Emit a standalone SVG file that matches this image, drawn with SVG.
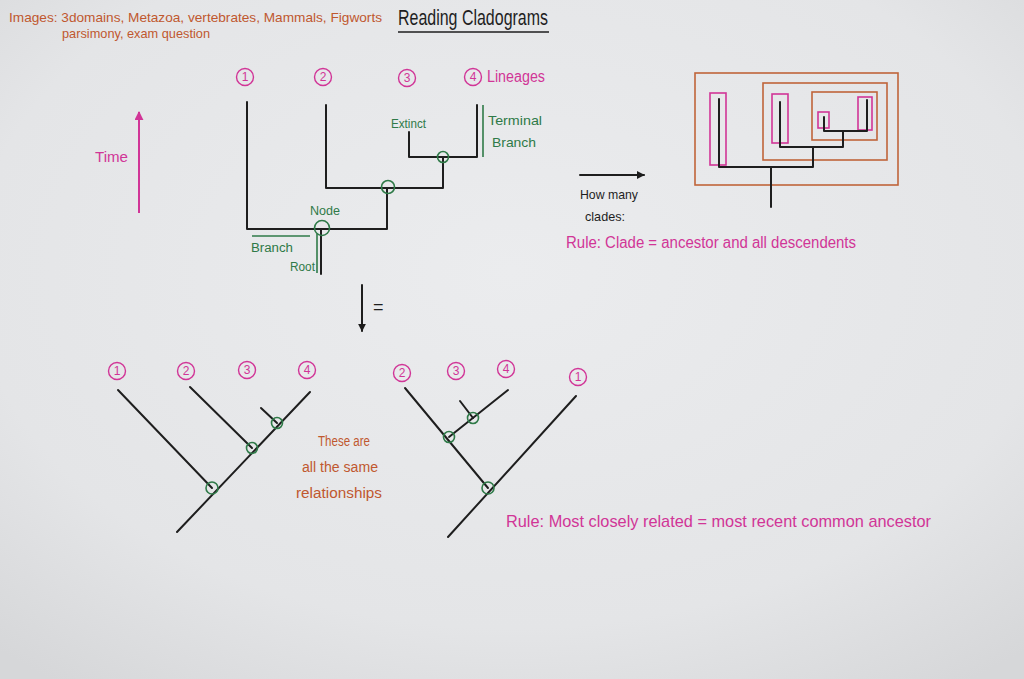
<svg xmlns="http://www.w3.org/2000/svg" width="1024" height="679" viewBox="0 0 1024 679">
<defs>
<radialGradient id="bg" cx="50%" cy="40%" r="75%">
<stop offset="0" stop-color="#ebecee"/>
<stop offset="0.7" stop-color="#e4e5e7"/>
<stop offset="1" stop-color="#d6d7d9"/>
</radialGradient>
<marker id="ahK" viewBox="0 0 10 10" refX="9" refY="5" markerWidth="4" markerHeight="4" orient="auto" markerUnits="strokeWidth"><path d="M0,0 L10,5 L0,10 z" fill="#1c1c1c"/></marker>
<marker id="ahM" viewBox="0 0 10 10" refX="9" refY="5" markerWidth="4.5" markerHeight="4.5" orient="auto" markerUnits="strokeWidth"><path d="M0,0 L10,5 L0,10 z" fill="#d13597"/></marker>
</defs>
<style>
text{font-family:"Liberation Sans","DejaVu Sans",sans-serif}
.k{stroke:#1e1e1e;stroke-width:2;fill:none;stroke-linecap:round;stroke-linejoin:round}
.g{stroke:#2f7a48;stroke-width:1.6;fill:none}
.nc{stroke:#2f7a48;stroke-width:1.6;fill:none}
.mc{stroke:#d13597;stroke-width:1.4;fill:none}
.m{fill:#d13597}
.gt{fill:#2f7a48}
.o{fill:#c0582f}
.kt{fill:#1e1e1e}
.num{fill:#d13597;font-size:12px;text-anchor:middle}
.or{stroke:#c0643a;stroke-width:1.6;fill:none}
.mr{stroke:#d13597;stroke-width:1.6;fill:none}
</style>
<rect width="1024" height="679" fill="url(#bg)"/>

<g id="header">
<text x="9" y="22" class="o" font-size="13" textLength="373" lengthAdjust="spacingAndGlyphs">Images: 3domains, Metazoa, vertebrates, Mammals, Figworts</text>
<text x="62" y="38" class="o" font-size="13" textLength="148" lengthAdjust="spacingAndGlyphs">parsimony, exam question</text>
<text x="398" y="25" class="kt" font-size="22" textLength="150" lengthAdjust="spacingAndGlyphs">Reading Cladograms</text>
<line x1="398" y1="32" x2="549" y2="32" stroke="#1e1e1e" stroke-width="1.6"/>
</g>

<g id="time">
<line x1="139" y1="213" x2="139" y2="112" stroke="#d13597" stroke-width="2" marker-end="url(#ahM)"/>
<text x="95" y="162" class="m" font-size="15" textLength="33" lengthAdjust="spacingAndGlyphs">Time</text>
</g>

<g id="top-connectors">
<path class="k" d="M247,102 V229 H387 V188"/>
<path class="k" d="M326,105 V188 H443 V157"/>
<path class="k" d="M409,132 V157 H477 V105"/>
<line x1="321" y1="229" x2="321" y2="274" class="k"/>
</g>
<g id="top-node-root"><circle cx="322" cy="228" r="7.5" class="nc"/></g>
<g id="top-node-a"><circle cx="388" cy="187" r="6.5" class="nc"/></g>
<g id="top-node-b"><circle cx="443" cy="157" r="5.5" class="nc"/></g>
<g id="top-lin1"><circle cx="245" cy="77" r="8.5" class="mc"/><text x="245" y="81" class="num">1</text></g>
<g id="top-lin2"><circle cx="323" cy="77" r="8.5" class="mc"/><text x="323" y="81" class="num">2</text></g>
<g id="top-lin3"><circle cx="407" cy="78" r="8.5" class="mc"/><text x="407" y="82" class="num">3</text></g>
<g id="top-lin4"><circle cx="473" cy="77" r="8.5" class="mc"/><text x="473" y="81" class="num">4</text>
<text x="487" y="82" class="m" font-size="16" textLength="58" lengthAdjust="spacingAndGlyphs">Lineages</text></g>
<g id="top-annotations">
<text x="391" y="128" class="gt" font-size="12" textLength="35" lengthAdjust="spacingAndGlyphs">Extinct</text>
<line x1="483" y1="105" x2="483" y2="157" class="g"/>
<text x="488" y="125" class="gt" font-size="13" textLength="54" lengthAdjust="spacingAndGlyphs">Terminal</text>
<text x="492" y="147" class="gt" font-size="13" textLength="44" lengthAdjust="spacingAndGlyphs">Branch</text>
<text x="310" y="215" class="gt" font-size="12" textLength="30" lengthAdjust="spacingAndGlyphs">Node</text>
<line x1="252" y1="236" x2="310" y2="236" class="g"/>
<text x="251" y="252" class="gt" font-size="12" textLength="42" lengthAdjust="spacingAndGlyphs">Branch</text>
<line x1="317" y1="234" x2="317" y2="273" class="g"/>
<text x="290" y="271" class="gt" font-size="12" textLength="25" lengthAdjust="spacingAndGlyphs">Root</text>
</g>

<g id="clade-boxes">
<rect x="695" y="73" width="203" height="112" class="or"/>
<rect x="763" y="83" width="124" height="77" class="or"/>
<rect x="812" y="92" width="65" height="48" class="or"/>
<rect x="710" y="93" width="16" height="72" class="mr"/>
<rect x="772" y="94" width="16" height="49" class="mr"/>
<rect x="818" y="112" width="11" height="16" class="mr"/>
<rect x="858" y="97" width="14" height="33" class="mr"/>
</g>
<g id="clade-tree">
<path class="k" d="M719,99 V167 H813 V147"/>
<path class="k" d="M780,102 V147 H843 V131"/>
<path class="k" d="M824,117 V131 H867 V100"/>
<line x1="771" y1="167" x2="771" y2="207" class="k"/>
</g>
<g id="clade-question">
<line x1="580" y1="175" x2="644" y2="175" class="k" marker-end="url(#ahK)"/>
<text x="580" y="199" class="kt" font-size="13" textLength="58" lengthAdjust="spacingAndGlyphs">How many</text>
<text x="585" y="221" class="kt" font-size="13" textLength="40" lengthAdjust="spacingAndGlyphs">clades:</text>
<text x="566" y="248" class="m" font-size="16" textLength="290" lengthAdjust="spacingAndGlyphs">Rule: Clade = ancestor and all descendents</text>
</g>

<g id="equals-arrow">
<line x1="362" y1="285" x2="362" y2="331" class="k" marker-end="url(#ahK)"/>
<text x="373" y="313" class="kt" font-size="18">=</text>
</g>

<g id="left-connectors">
<line x1="177" y1="532" x2="310" y2="392" class="k"/>
<line x1="118" y1="390" x2="212" y2="488" class="k"/>
<line x1="190" y1="387" x2="252" y2="448" class="k"/>
<line x1="261" y1="408" x2="277" y2="423" class="k"/>
</g>
<g id="left-node-a"><circle cx="212" cy="488" r="6" class="nc"/></g>
<g id="left-node-b"><circle cx="252" cy="448" r="5.5" class="nc"/></g>
<g id="left-node-c"><circle cx="277" cy="423" r="5.5" class="nc"/></g>
<g id="left-lin1"><circle cx="117" cy="371" r="8.5" class="mc"/><text x="117" y="375" class="num">1</text></g>
<g id="left-lin2"><circle cx="186" cy="371" r="8.5" class="mc"/><text x="186" y="375" class="num">2</text></g>
<g id="left-lin3"><circle cx="247" cy="370" r="8.5" class="mc"/><text x="247" y="374" class="num">3</text></g>
<g id="left-lin4"><circle cx="307" cy="370" r="8.5" class="mc"/><text x="307" y="374" class="num">4</text></g>
<g id="same-note">
<text x="318" y="446" class="o" font-size="14" textLength="52" lengthAdjust="spacingAndGlyphs">These are</text>
<text x="302" y="472" class="o" font-size="14" textLength="76" lengthAdjust="spacingAndGlyphs">all the same</text>
<text x="296" y="498" class="o" font-size="14" textLength="86" lengthAdjust="spacingAndGlyphs">relationships</text>
</g>

<g id="right-connectors">
<line x1="448" y1="537" x2="576" y2="396" class="k"/>
<line x1="405" y1="388" x2="488" y2="488" class="k"/>
<line x1="449" y1="437" x2="508" y2="390" class="k"/>
<line x1="460" y1="401" x2="473" y2="418" class="k"/>
</g>
<g id="right-node-a"><circle cx="488" cy="488" r="6" class="nc"/></g>
<g id="right-node-b"><circle cx="449" cy="437" r="5.5" class="nc"/></g>
<g id="right-node-c"><circle cx="473" cy="418" r="5.5" class="nc"/></g>
<g id="right-lin2"><circle cx="402" cy="373" r="8.5" class="mc"/><text x="402" y="377" class="num">2</text></g>
<g id="right-lin3"><circle cx="456" cy="371" r="8.5" class="mc"/><text x="456" y="375" class="num">3</text></g>
<g id="right-lin4"><circle cx="506" cy="369" r="8.5" class="mc"/><text x="506" y="373" class="num">4</text></g>
<g id="right-lin1"><circle cx="578" cy="377" r="8.5" class="mc"/><text x="578" y="381" class="num">1</text></g>
<g id="rule2">
<text x="506" y="527" class="m" font-size="17" textLength="425" lengthAdjust="spacingAndGlyphs">Rule: Most closely related = most recent common ancestor</text>
</g>
</svg>
